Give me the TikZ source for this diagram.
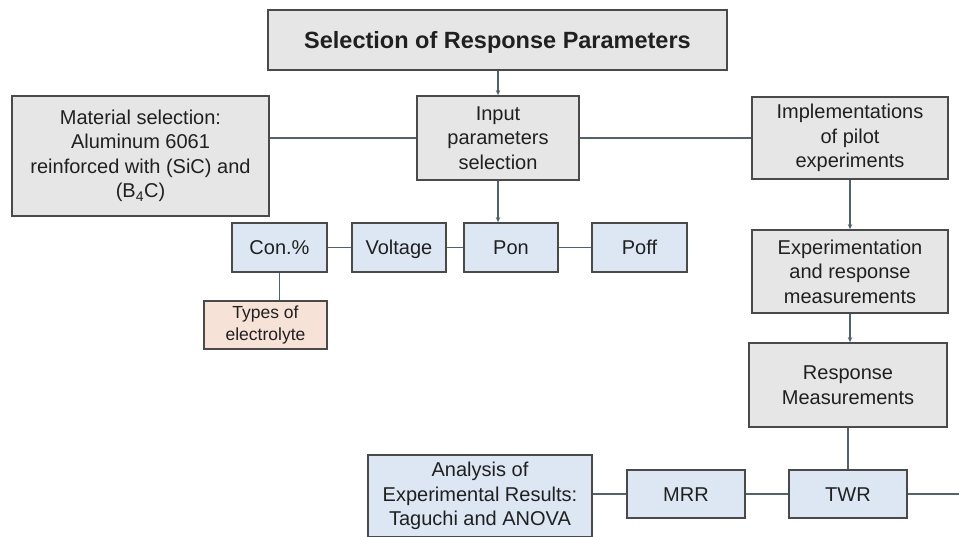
\documentclass[tikz,border=0pt]{standalone}
\usepackage{fontspec}
\setmainfont{Liberation Sans}
\usetikzlibrary{arrows.meta}

\definecolor{boxgray}{HTML}{E6E6E6}
\definecolor{boxblue}{HTML}{DCE7F3}
\definecolor{boxpink}{HTML}{F7E2D7}
\definecolor{edgecol}{HTML}{4A4A4A}
\definecolor{linkcol}{HTML}{50626A}
\definecolor{txtcol}{HTML}{202020}

\tikzset{
  base/.style={draw=edgecol, line width=1.8pt, align=center, text=txtcol,
    inner sep=0pt, font=\fontsize{20}{24.5}\selectfont},
  graybox/.style={base, fill=boxgray},
  bluebox/.style={base, fill=boxblue},
  oneline/.style={text height=15pt, text depth=1pt},
  pinkbox/.style={base, fill=boxpink, font=\fontsize{17.5}{22}\selectfont},
  link/.style={draw=linkcol, line width=1.8pt},
  flow/.style={link, -{Stealth[length=5pt,width=4.5pt]}},
}

\begin{document}
\begin{tikzpicture}[x=1pt, y=-1pt]
  \useasboundingbox[fill=white] (0,0) rectangle (959,536);

  % top row
  \node[graybox, minimum width=459pt, minimum height=60pt,
        text height=17pt, text depth=1pt,
        font=\fontsize{23.5}{28}\selectfont\bfseries] (title) at (497.5,40)
        {Selection of Response Parameters};
  \node[graybox, minimum width=257pt, minimum height=120pt] (mat) at (140.5,156)
        {Material selection:\\Aluminum 6061\\reinforced with (SiC) and\\(B\textsubscript{4}C)};
  \node[graybox, minimum width=162pt, minimum height=84pt] (inp) at (498,138)
        {Input\\parameters\\selection};
  \node[graybox, minimum width=196pt, minimum height=82pt] (impl) at (850,138)
        {Implementations\\of pilot\\experiments};

  % input parameters
  \node[bluebox, oneline, minimum width=95pt, minimum height=49pt] (con) at (279.5,247.5) {Con.\%};
  \node[bluebox, oneline, minimum width=94pt, minimum height=49pt] (volt) at (399,247.5) {Voltage};
  \node[bluebox, oneline, minimum width=94pt, minimum height=49pt] (pon) at (511,247.5) {Pon};
  \node[bluebox, oneline, minimum width=95pt, minimum height=49pt] (poff) at (639.5,247.5) {Poff};
  \node[pinkbox, minimum width=123pt, minimum height=48pt] (types) at (265.5,325)
        {Types of\\electrolyte};

  % right column
  \node[graybox, minimum width=196pt, minimum height=83pt] (expm) at (850,271.5)
        {Experimentation\\and response\\measurements};
  \node[graybox, minimum width=198pt, minimum height=84pt] (resp) at (848,385)
        {Response\\Measurements};

  % bottom row
  \node[bluebox, oneline, minimum width=118pt, minimum height=48pt] (twr) at (848,494) {TWR};
  \node[bluebox, oneline, minimum width=118pt, minimum height=48pt] (mrr) at (686,494) {MRR};
  \node[bluebox, minimum width=224pt, minimum height=82pt] (anal) at (480,496)
        {Analysis of\\Experimental Results:\\Taguchi and ANOVA};
  \coordinate (tail) at (959,494);

  % connectors
  \draw[flow] (title.south -| inp.north) -- (inp.north);
  \draw[link] (mat.east |- inp.west) -- (inp.west);
  \draw[link] (inp.east) -- (impl.west);
  \draw[flow] (inp.south) -- (inp.south |- pon.north);
  \draw[link] (con.east) -- (volt.west);
  \draw[link] (volt.east) -- (pon.west);
  \draw[link] (pon.east) -- (poff.west);
  \draw[link] (con.south) -- (con.south |- types.north);
  \draw[flow] (impl.south) -- (expm.north);
  \draw[flow] (expm.south) -- (expm.south |- resp.north);
  \draw[link] (resp.south) -- (twr.north);
  \draw[link] (anal.east |- mrr.west) -- (mrr.west);
  \draw[link] (mrr.east) -- (twr.west);
  \draw[link] (twr.east) -- (tail);
\end{tikzpicture}
\end{document}
